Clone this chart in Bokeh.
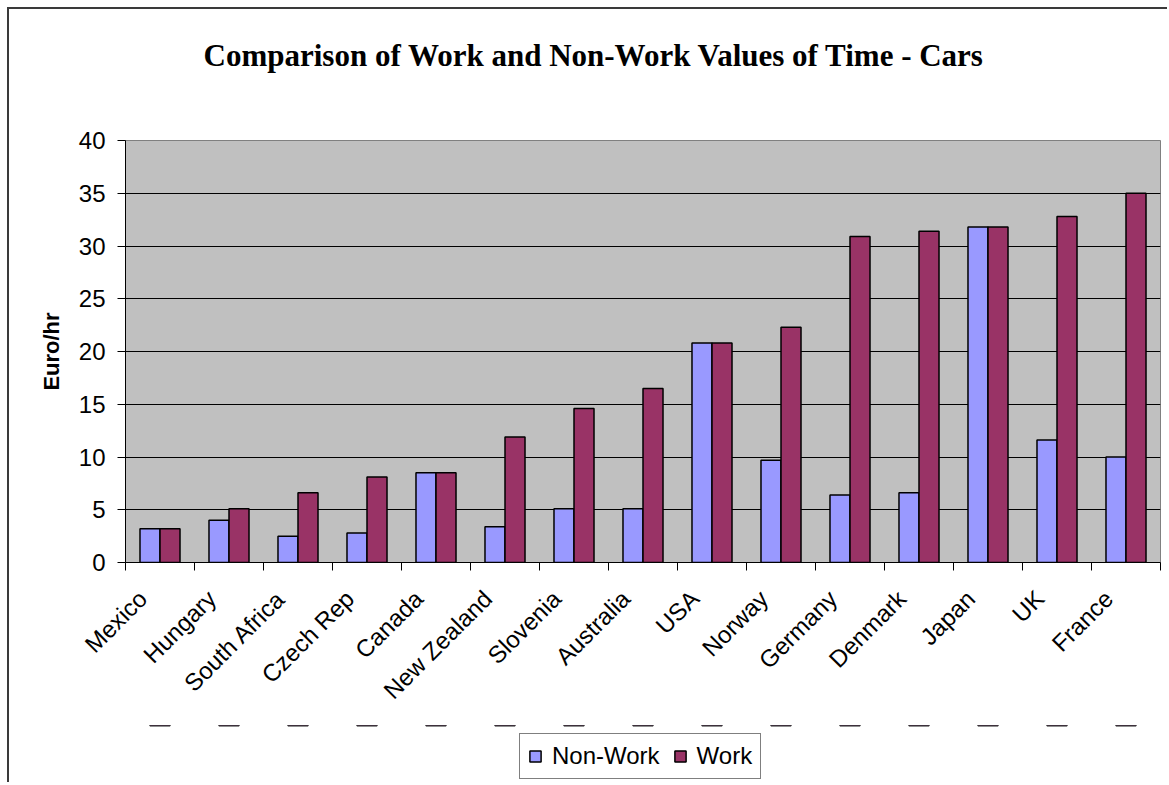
import numpy as np
from bokeh.plotting import figure
from bokeh.layouts import column
from bokeh.models import (ColumnDataSource, FixedTicker, Legend, LegendItem,
                          Range1d, Title)
from bokeh.transform import dodge
from bokeh.embed import file_html
from bokeh.resources import INLINE

# Values of travel time for car trips, Euro per hour
countries = ["Mexico", "Hungary", "South Africa", "Czech Rep", "Canada",
             "New Zealand", "Slovenia", "Australia", "USA", "Norway",
             "Germany", "Denmark", "Japan", "UK", "France"]
non_work = [3.2, 4.0, 2.5, 2.8, 8.5, 3.4, 5.1, 5.1, 20.8, 9.7,
            6.4, 6.6, 31.8, 11.6, 10.0]
work = [3.2, 5.1, 6.6, 8.1, 8.5, 11.9, 14.6, 16.5, 20.8, 22.3,
        30.9, 31.4, 31.8, 32.8, 35.0]
y_ticks = [0, 5, 10, 15, 20, 25, 30, 35, 40]
series = ["Non-Work", "Work"]
series_cols = ["non_work", "work"]
colors = ["#9999FF", "#993366"]

SANS = "Liberation Sans"
SERIF = "Liberation Serif"
FRAME_LINE = "2px solid #3a3a3a"

n = len(countries)
centers = [i + 0.5 for i in range(n)]
label_pos = [round(c - 0.25, 2) for c in centers]

src = ColumnDataSource(dict(x=centers, non_work=non_work, work=work))

# ---- main chart ----
p = figure(width=1160, height=718,
           x_range=Range1d(0, n), y_range=Range1d(y_ticks[0], y_ticks[-1]),
           output_backend="svg", toolbar_location=None,
           min_border_left=116, min_border_right=9,
           min_border_top=131, min_border_bottom=165,
           background_fill_color="#C0C0C0", border_fill_color="white",
           outline_line_color="#808080", outline_line_width=1)
p.styles = {"margin-left": "7px", "margin-top": "7px",
            "border-left": FRAME_LINE, "border-top": FRAME_LINE}

# chart title; bottom padding keeps it well above the plot area
# (padding order: left, right, top, bottom)
p.add_layout(Title(text="Comparison of Work and Non-Work Values of Time - Cars",
                   align="left", offset=78, vertical_align="top", standoff=0,
                   padding=(0, 0, 20, 66),
                   text_font=SERIF, text_font_style="bold",
                   text_font_size="31px", text_color="black"), "above")

# bars
for col, color, shift in zip(series_cols, colors, [-0.145, 0.145]):
    p.vbar(x=dodge("x", shift, range=p.x_range), top=col,
           width=0.29, source=src, fill_color=color,
           line_color="black", line_width=1.5)

# grid
p.xgrid.visible = False
p.ygrid.ticker = FixedTicker(ticks=y_ticks[1:-1])
p.ygrid.grid_line_color = "black"
p.ygrid.grid_line_width = 1

# y axis
yax = p.yaxis[0]
yax.ticker = FixedTicker(ticks=y_ticks)
yax.major_tick_out = 8
yax.major_tick_in = 0
yax.minor_tick_line_color = None
yax.axis_line_color = "black"
yax.major_tick_line_color = "black"
yax.major_label_text_font = SANS
yax.major_label_text_font_size = "24px"
yax.major_label_text_color = "black"
yax.major_label_standoff = 12
yax.axis_label = "Euro/hr"
yax.axis_label_text_font = SANS
yax.axis_label_text_font_style = "bold"
yax.axis_label_text_font_size = "22px"
yax.axis_label_text_color = "black"
yax.axis_label_standoff = 12

# x axis: ticks between categories, names under each group
xax = p.xaxis[0]
xax.ticker = FixedTicker(ticks=label_pos, minor_ticks=list(range(n + 1)))
xax.major_label_overrides = {lp: name for lp, name in zip(label_pos, countries)}
xax.major_tick_line_color = None
xax.major_tick_out = 0
xax.major_tick_in = 0
xax.minor_tick_line_color = "black"
xax.minor_tick_out = 8
xax.minor_tick_in = 0
xax.axis_line_color = "black"
xax.major_label_orientation = np.pi / 4
xax.major_label_text_font = SANS
xax.major_label_text_font_size = "24px"
xax.major_label_text_color = "black"
xax.major_label_standoff = 24

# ---- legend strip under the chart ----
# The strip's y range lies below zero, so its copies of the bars stay out of
# view and only serve as legend keys.
q = figure(width=1160, height=57, x_range=Range1d(0, n), y_range=Range1d(-2, -1),
           x_axis_type=None, y_axis_type=None,
           output_backend="svg", toolbar_location=None,
           min_border=0, min_border_left=0, min_border_right=0,
           min_border_top=0, min_border_bottom=0,
           background_fill_color="white", border_fill_color="white",
           outline_line_color=None)
q.styles = {"margin-left": "7px", "border-left": FRAME_LINE}

items = []
for name, col, color in zip(series, series_cols, colors):
    r = q.vbar(x="x", top=col, width=0.29, source=src,
               fill_color=color, line_color="black", line_width=1.5)
    items.append(LegendItem(label=name, renderers=[r]))

legend = Legend(items=items, orientation="horizontal", location=(394, 3),
                border_line_color="black", border_line_width=1,
                background_fill_color="white", background_fill_alpha=1,
                label_text_font=SANS, label_text_font_size="24px",
                label_text_color="black",
                glyph_width=14, glyph_height=14, label_standoff=10,
                spacing=13, padding=8, margin=0)
q.add_layout(legend)

page = column(p, q, spacing=0)

open("out.html", "w").write(file_html(page, INLINE))
